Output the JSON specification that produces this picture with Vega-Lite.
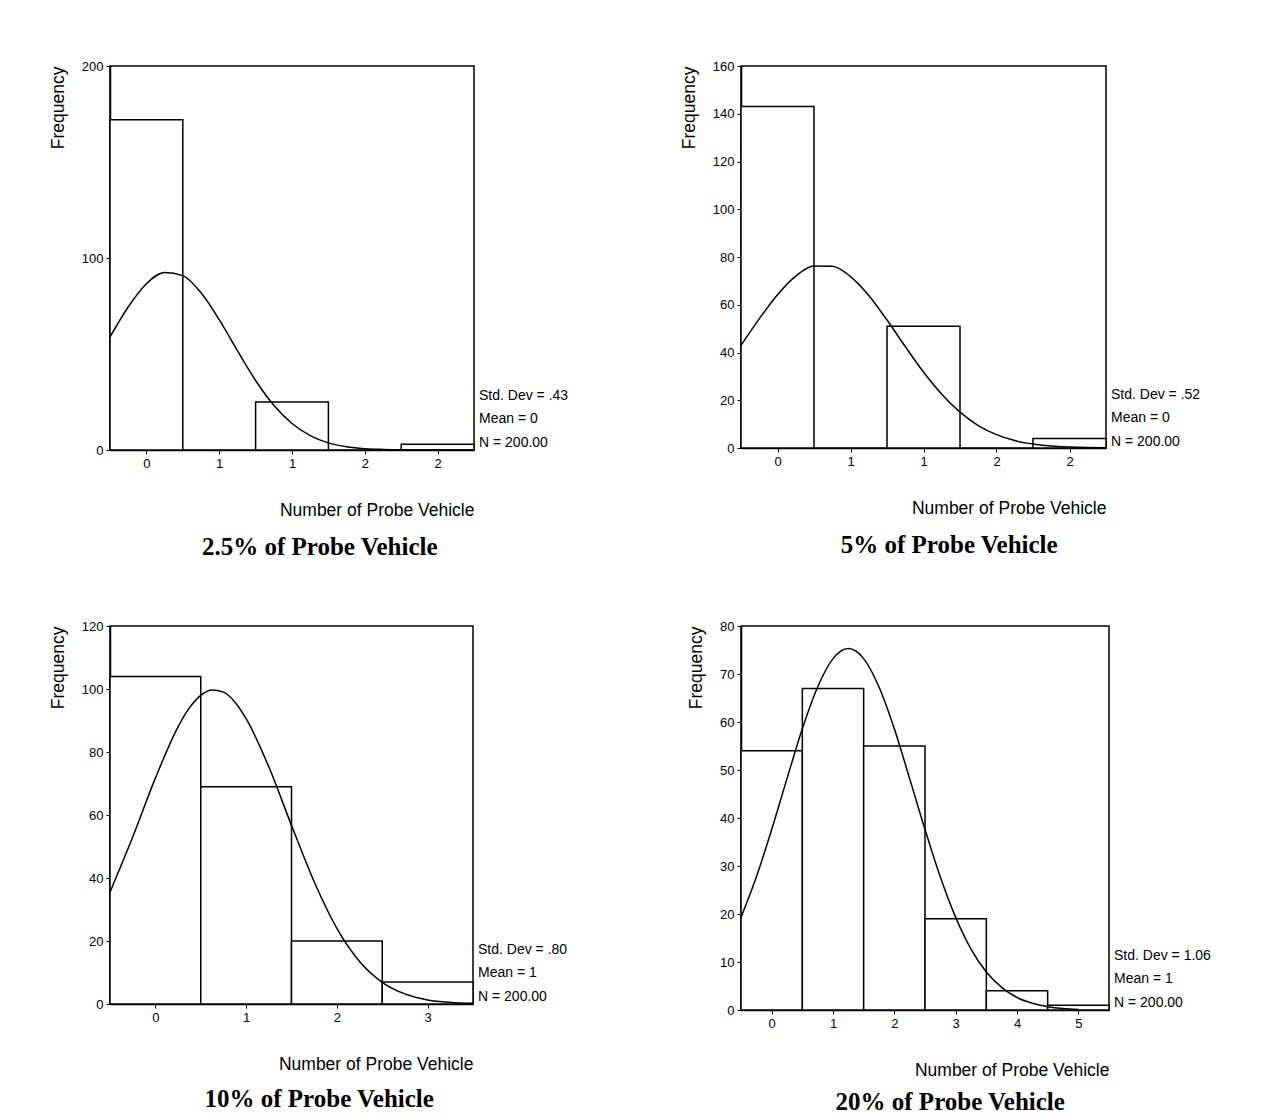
{
  "$schema": "https://vega.github.io/schema/vega-lite/v6.json",
  "background": "white",
  "padding": {"left": 48, "top": 59, "right": 0, "bottom": 0},
  "autosize": {"type": "pad"},
  "columns": 2,
  "align": "each",
  "spacing": {"column": 110, "row": 58},
  "datasets": {
    "p1bars": [
      {"start": -0.25, "end": 0.25, "count": 172},
      {"start": 0.75, "end": 1.25, "count": 25},
      {"start": 1.75, "end": 2.25, "count": 3}
    ],
    "p1curve": [
      {"x": -0.25, "y": 58.9}, {"x": -0.125, "y": 74.5}, {"x": 0, "y": 86.6}, {"x": 0.125, "y": 92.5},
      {"x": 0.25, "y": 90.8}, {"x": 0.375, "y": 81.9}, {"x": 0.5, "y": 67.9}, {"x": 0.625, "y": 51.7},
      {"x": 0.75, "y": 36.2}, {"x": 0.875, "y": 23.3}, {"x": 1.0, "y": 13.8}, {"x": 1.125, "y": 7.5},
      {"x": 1.25, "y": 3.7}, {"x": 1.375, "y": 1.7}, {"x": 1.5, "y": 0.7}, {"x": 1.625, "y": 0.3},
      {"x": 1.75, "y": 0.1}, {"x": 2.0, "y": 0}, {"x": 2.25, "y": 0}
    ],
    "p1stats": [{"stats": ["Std. Dev = .43", "Mean = 0", "N = 200.00"]}],
    "p2bars": [
      {"start": -0.25, "end": 0.25, "count": 143},
      {"start": 0.75, "end": 1.25, "count": 51},
      {"start": 1.75, "end": 2.25, "count": 4}
    ],
    "p2curve": [
      {"x": -0.25, "y": 43.0}, {"x": -0.125, "y": 54.1}, {"x": 0, "y": 64.2}, {"x": 0.125, "y": 72.0},
      {"x": 0.25, "y": 76.2}, {"x": 0.375, "y": 76.1}, {"x": 0.5, "y": 71.8}, {"x": 0.625, "y": 63.9},
      {"x": 0.75, "y": 53.6}, {"x": 0.875, "y": 42.5}, {"x": 1.0, "y": 31.8}, {"x": 1.125, "y": 22.5},
      {"x": 1.25, "y": 15.0}, {"x": 1.375, "y": 9.4}, {"x": 1.5, "y": 5.6}, {"x": 1.625, "y": 3.1},
      {"x": 1.75, "y": 1.7}, {"x": 1.875, "y": 0.8}, {"x": 2.0, "y": 0.4}, {"x": 2.125, "y": 0.2},
      {"x": 2.25, "y": 0.1}
    ],
    "p2stats": [{"stats": ["Std. Dev = .52", "Mean = 0", "N = 200.00"]}],
    "p3bars": [
      {"start": -0.5, "end": 0.5, "count": 104},
      {"start": 0.5, "end": 1.5, "count": 69},
      {"start": 1.5, "end": 2.5, "count": 20},
      {"start": 2.5, "end": 3.5, "count": 7}
    ],
    "p3curve": [
      {"x": -0.5, "y": 35.5}, {"x": -0.25, "y": 53.0}, {"x": 0, "y": 71.7}, {"x": 0.25, "y": 88.0},
      {"x": 0.375, "y": 94.0}, {"x": 0.5, "y": 98.0}, {"x": 0.625, "y": 99.7}, {"x": 0.75, "y": 99.0},
      {"x": 0.875, "y": 95.9}, {"x": 1.0, "y": 90.6}, {"x": 1.25, "y": 75.3}, {"x": 1.5, "y": 56.7},
      {"x": 1.75, "y": 38.8}, {"x": 2.0, "y": 24.0}, {"x": 2.25, "y": 13.5}, {"x": 2.5, "y": 6.9},
      {"x": 2.75, "y": 3.2}, {"x": 3.0, "y": 1.3}, {"x": 3.25, "y": 0.5}, {"x": 3.5, "y": 0.2}
    ],
    "p3stats": [{"stats": ["Std. Dev = .80", "Mean = 1", "N = 200.00"]}],
    "p4bars": [
      {"start": -0.5, "end": 0.5, "count": 54},
      {"start": 0.5, "end": 1.5, "count": 67},
      {"start": 1.5, "end": 2.5, "count": 55},
      {"start": 2.5, "end": 3.5, "count": 19},
      {"start": 3.5, "end": 4.5, "count": 4},
      {"start": 4.5, "end": 5.5, "count": 1}
    ],
    "p4curve": [
      {"x": -0.5, "y": 19.3}, {"x": -0.25, "y": 27.7}, {"x": 0, "y": 37.6}, {"x": 0.25, "y": 48.2},
      {"x": 0.5, "y": 58.6}, {"x": 0.75, "y": 67.3}, {"x": 1.0, "y": 73.2}, {"x": 1.25, "y": 75.3},
      {"x": 1.5, "y": 73.2}, {"x": 1.75, "y": 67.3}, {"x": 2.0, "y": 58.6}, {"x": 2.25, "y": 48.2},
      {"x": 2.5, "y": 37.6}, {"x": 2.75, "y": 27.7}, {"x": 3.0, "y": 19.3}, {"x": 3.25, "y": 12.7},
      {"x": 3.5, "y": 7.9}, {"x": 3.75, "y": 4.7}, {"x": 4.0, "y": 2.6}, {"x": 4.25, "y": 1.4},
      {"x": 4.5, "y": 0.7}, {"x": 4.75, "y": 0.3}, {"x": 5.0, "y": 0.1}
    ],
    "p4stats": [{"stats": ["Std. Dev = 1.06", "Mean = 1", "N = 200.00"]}]
  },
  "concat": [
    {
      "width": 364, "height": 384,
      "title": {"text": "2.5% of Probe Vehicle", "orient": "bottom", "anchor": "middle", "frame": "bounds", "offset": 16, "dx": 11},
      "layer": [
        {
          "data": {"name": "p1bars"},
          "mark": {"type": "rect", "fill": "white", "stroke": "black", "strokeWidth": 1.5},
          "encoding": {
            "x": {"field": "start", "type": "quantitative", "title": "Number of Probe Vehicle",
                  "scale": {"domain": [-0.25, 2.25], "nice": false, "zero": false},
                  "axis": {"values": [0, 0.5, 1, 1.5, 2], "labelExpr": "'' + round(datum.value)"}},
            "x2": {"field": "end"},
            "y": {"field": "count", "type": "quantitative", "title": "Frequency",
                  "scale": {"domain": [0, 200], "nice": false},
                  "axis": {"values": [0, 100, 200]}},
            "y2": {"datum": 0}
          }
        },
        {
          "data": {"name": "p1curve"},
          "mark": {"type": "line", "color": "black", "strokeWidth": 1.5, "interpolate": "monotone"},
          "encoding": {"x": {"field": "x", "type": "quantitative"}, "y": {"field": "y", "type": "quantitative"}}
        },
        {
          "data": {"name": "p1stats"},
          "mark": {"type": "text", "align": "left", "baseline": "middle", "dx": 5, "dy": -54, "lineHeight": 23.3, "fontSize": 14, "font": "Liberation Sans", "color": "black"},
          "encoding": {"x": {"datum": 2.25}, "y": {"datum": 0}, "text": {"field": "stats"}}
        }
      ]
    },
    {
      "width": 365, "height": 382,
      "title": {"text": "5% of Probe Vehicle", "orient": "bottom", "anchor": "middle", "frame": "bounds", "offset": 16, "dx": 9},
      "layer": [
        {
          "data": {"name": "p2bars"},
          "mark": {"type": "rect", "fill": "white", "stroke": "black", "strokeWidth": 1.5},
          "encoding": {
            "x": {"field": "start", "type": "quantitative", "title": "Number of Probe Vehicle",
                  "scale": {"domain": [-0.25, 2.25], "nice": false, "zero": false},
                  "axis": {"values": [0, 0.5, 1, 1.5, 2], "labelExpr": "'' + round(datum.value)"}},
            "x2": {"field": "end"},
            "y": {"field": "count", "type": "quantitative", "title": "Frequency",
                  "scale": {"domain": [0, 160], "nice": false},
                  "axis": {"values": [0, 20, 40, 60, 80, 100, 120, 140, 160]}},
            "y2": {"datum": 0}
          }
        },
        {
          "data": {"name": "p2curve"},
          "mark": {"type": "line", "color": "black", "strokeWidth": 1.5, "interpolate": "monotone"},
          "encoding": {"x": {"field": "x", "type": "quantitative"}, "y": {"field": "y", "type": "quantitative"}}
        },
        {
          "data": {"name": "p2stats"},
          "mark": {"type": "text", "align": "left", "baseline": "middle", "dx": 5, "dy": -53, "lineHeight": 23.3, "fontSize": 14, "font": "Liberation Sans", "color": "black"},
          "encoding": {"x": {"datum": 2.25}, "y": {"datum": 0}, "text": {"field": "stats"}}
        }
      ]
    },
    {
      "width": 363, "height": 378,
      "title": {"text": "10% of Probe Vehicle", "orient": "bottom", "anchor": "middle", "frame": "bounds", "offset": 14, "dx": 11},
      "layer": [
        {
          "data": {"name": "p3bars"},
          "mark": {"type": "rect", "fill": "white", "stroke": "black", "strokeWidth": 1.5},
          "encoding": {
            "x": {"field": "start", "type": "quantitative", "title": "Number of Probe Vehicle",
                  "scale": {"domain": [-0.5, 3.5], "nice": false, "zero": false},
                  "axis": {"values": [0, 1, 2, 3], "labelExpr": "'' + round(datum.value)"}},
            "x2": {"field": "end"},
            "y": {"field": "count", "type": "quantitative", "title": "Frequency",
                  "scale": {"domain": [0, 120], "nice": false},
                  "axis": {"values": [0, 20, 40, 60, 80, 100, 120]}},
            "y2": {"datum": 0}
          }
        },
        {
          "data": {"name": "p3curve"},
          "mark": {"type": "line", "color": "black", "strokeWidth": 1.5, "interpolate": "monotone"},
          "encoding": {"x": {"field": "x", "type": "quantitative"}, "y": {"field": "y", "type": "quantitative"}}
        },
        {
          "data": {"name": "p3stats"},
          "mark": {"type": "text", "align": "left", "baseline": "middle", "dx": 5, "dy": -54, "lineHeight": 23.3, "fontSize": 14, "font": "Liberation Sans", "color": "black"},
          "encoding": {"x": {"datum": 3.5}, "y": {"datum": 0}, "text": {"field": "stats"}}
        }
      ]
    },
    {
      "width": 368, "height": 384,
      "title": {"text": "20% of Probe Vehicle", "orient": "bottom", "anchor": "middle", "frame": "bounds", "offset": 11, "dx": 1},
      "layer": [
        {
          "data": {"name": "p4bars"},
          "mark": {"type": "rect", "fill": "white", "stroke": "black", "strokeWidth": 1.5},
          "encoding": {
            "x": {"field": "start", "type": "quantitative", "title": "Number of Probe Vehicle",
                  "scale": {"domain": [-0.5, 5.5], "nice": false, "zero": false},
                  "axis": {"values": [0, 1, 2, 3, 4, 5], "labelExpr": "'' + round(datum.value)"}},
            "x2": {"field": "end"},
            "y": {"field": "count", "type": "quantitative", "title": "Frequency",
                  "scale": {"domain": [0, 80], "nice": false},
                  "axis": {"values": [0, 10, 20, 30, 40, 50, 60, 70, 80]}},
            "y2": {"datum": 0}
          }
        },
        {
          "data": {"name": "p4curve"},
          "mark": {"type": "line", "color": "black", "strokeWidth": 1.5, "interpolate": "monotone"},
          "encoding": {"x": {"field": "x", "type": "quantitative"}, "y": {"field": "y", "type": "quantitative"}}
        },
        {
          "data": {"name": "p4stats"},
          "mark": {"type": "text", "align": "left", "baseline": "middle", "dx": 5, "dy": -54, "lineHeight": 23.3, "fontSize": 14, "font": "Liberation Sans", "color": "black"},
          "encoding": {"x": {"datum": 5.5}, "y": {"datum": 0}, "text": {"field": "stats"}}
        }
      ]
    }
  ],
  "config": {
    "view": {"stroke": "black", "strokeWidth": 1.5},
    "axis": {
      "grid": false,
      "labelFont": "Liberation Sans", "labelFontSize": 13, "labelColor": "black",
      "titleFont": "Liberation Sans", "titleFontSize": 17.5, "titleFontWeight": "normal", "titleColor": "black",
      "domainColor": "black", "domainWidth": 1.5, "tickColor": "black", "tickSize": 4, "tickWidth": 1
    },
    "axisX": {"titleAnchor": "end", "titlePadding": 31, "labelPadding": 3},
    "axisY": {"titleAnchor": "end", "titlePadding": 14, "labelPadding": 3},
    "title": {"font": "Liberation Serif", "fontSize": 25, "fontWeight": "bold", "color": "black"}
  }
}
